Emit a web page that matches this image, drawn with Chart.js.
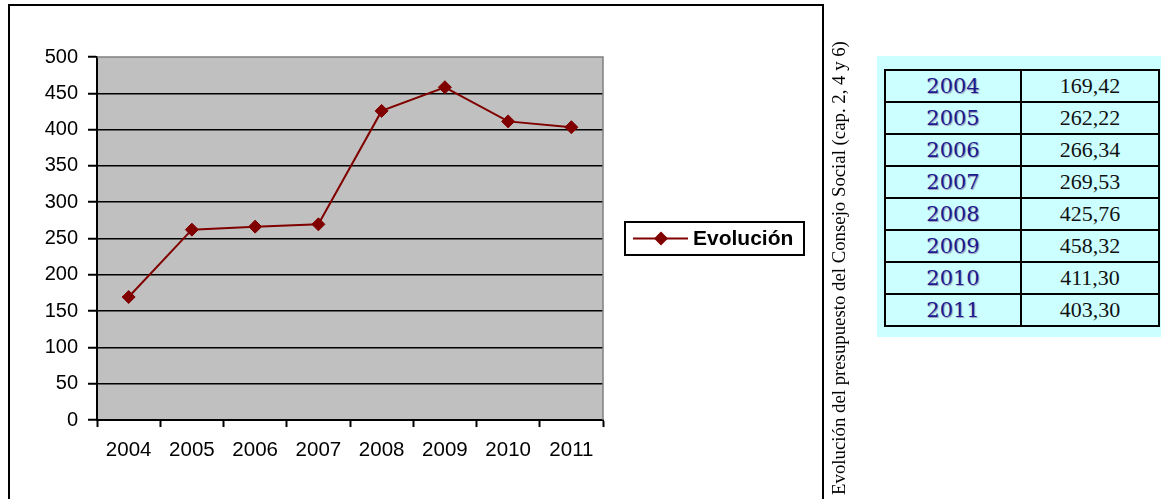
<!DOCTYPE html>
<html>
<head>
<meta charset="utf-8">
<script src="https://cdn.jsdelivr.net/npm/chart.js@4.4.1/dist/chart.umd.min.js"></script>
<style>
  html, body { margin: 0; padding: 0; background: #fff; }
  body { width: 1161px; height: 499px; position: relative; overflow: hidden; }
  #frame { position: absolute; left: 8px; top: 4px; width: 816px; height: 520px;
           border: 2px solid #000; box-sizing: border-box; }
  #wrap { position: absolute; left: 0; top: 0; width: 830px; height: 499px; }
  #side { position: absolute; left: 839px; top: 268px; width: 480px;
          transform: translate(-50%, -50%) rotate(-90deg);
          font-family: "Liberation Serif", "Times New Roman", serif; font-size: 18.8px;
          white-space: nowrap; text-align: center; color: #000; }
  #cyan { position: absolute; left: 877px; top: 56px; width: 284px; height: 281px; background: #ccffff; }
  #tbl { position: absolute; left: 884px; top: 69px; border-collapse: collapse; }
  #tbl td { border: 2px solid #000; height: 30px; padding: 0; text-align: center; vertical-align: middle; }
  #tbl td.y { width: 134px; font-family: "DejaVu Serif", serif; font-size: 21px; color: #1a1a8c;
              text-shadow: 1px 1px 1px #9a98b8; }
  #tbl td.v { width: 136px; font-family: "Liberation Serif", serif; font-size: 22px; color: #111; }
</style>
</head>
<body>
<div id="frame"></div>
<div id="wrap"><canvas id="c" width="830" height="499"></canvas></div>
<div id="side">Evolución del presupuesto del Consejo Social (cap. 2, 4 y 6)</div>
<div id="cyan"></div>
<table id="tbl"></table>
<script>
const years = ["2004", "2005", "2006", "2007", "2008", "2009", "2010", "2011"];
const values = [169.42, 262.22, 266.34, 269.53, 425.76, 458.32, 411.30, 403.30];
const valueLabels = ["169,42", "262,22", "266,34", "269,53", "425,76", "458,32", "411,30", "403,30"];
const seriesName = "Evolución";

// table
const tbl = document.getElementById('tbl');
years.forEach((y, i) => {
  const tr = document.createElement('tr');
  const a = document.createElement('td'); a.className = 'y'; a.textContent = y;
  const b = document.createElement('td'); b.className = 'v'; b.textContent = valueLabels[i];
  tr.appendChild(a); tr.appendChild(b); tbl.appendChild(tr);
});

const lineColor = '#800000';

const plotBg = {
  id: 'plotBg',
  beforeDraw(chart) {
    const {ctx, chartArea: a} = chart;
    ctx.save();
    ctx.fillStyle = '#c0c0c0';
    ctx.fillRect(a.left, a.top, a.right - a.left, a.bottom - a.top);
    ctx.restore();
  },
  afterDraw(chart) {
    const {ctx, chartArea: a} = chart;
    ctx.save();
    ctx.strokeStyle = '#808080';
    ctx.lineWidth = 1.5;
    ctx.beginPath();
    ctx.moveTo(a.left, a.top); ctx.lineTo(a.right, a.top); ctx.lineTo(a.right, a.bottom);
    ctx.stroke();
    // legend
    const lx = 625, ly = 222, lw = 179, lh = 33;
    ctx.fillStyle = '#fff';
    ctx.fillRect(lx, ly, lw, lh);
    ctx.strokeStyle = '#000'; ctx.lineWidth = 2;
    ctx.strokeRect(lx, ly, lw, lh);
    const cy = ly + lh / 2;
    ctx.strokeStyle = lineColor; ctx.lineWidth = 2;
    ctx.beginPath(); ctx.moveTo(633, cy); ctx.lineTo(688, cy); ctx.stroke();
    ctx.fillStyle = lineColor;
    ctx.beginPath();
    const r = 7;
    ctx.moveTo(661, cy - r); ctx.lineTo(661 + r, cy); ctx.lineTo(661, cy + r); ctx.lineTo(661 - r, cy); ctx.closePath();
    ctx.fill();
    ctx.fillStyle = '#000';
    ctx.font = 'bold 21px "Liberation Sans", Arial, sans-serif';
    ctx.textBaseline = 'middle';
    ctx.fillText(seriesName, 693, cy + 1);
    ctx.restore();
  }
};

new Chart(document.getElementById('c'), {
  type: 'line',
  data: {
    labels: years,
    datasets: [{
      label: seriesName,
      data: values,
      borderColor: lineColor,
      backgroundColor: lineColor,
      borderWidth: 2,
      pointStyle: 'rectRot',
      pointRadius: 6.5,
      pointHoverRadius: 6.5,
      pointBorderWidth: 1,
      tension: 0
    }]
  },
  options: {
    responsive: false,
    animation: false,
    events: [],
    layout: { padding: { left: 0, top: 57, right: 227, bottom: 0 } },
    plugins: { legend: { display: false }, tooltip: { enabled: false } },
    scales: {
      x: {
        type: 'category',
        offset: true,
        grid: { offset: true, drawOnChartArea: false, drawTicks: true, tickLength: 7, tickColor: '#000', tickWidth: 2 },
        border: { color: '#000', width: 2 },
        ticks: { color: '#000', padding: 11, font: { family: '"Liberation Sans", Arial, sans-serif', size: 20.5 }, maxRotation: 0, autoSkip: false },
        afterFit(s) { s.height = 79; }
      },
      y: {
        min: 0, max: 500,
        ticks: { stepSize: 50, color: '#000', padding: 10, font: { family: '"Liberation Sans", Arial, sans-serif', size: 20 } },
        grid: { color: (c) => c.tick && c.tick.value === 500 ? 'rgba(0,0,0,0)' : '#000', lineWidth: 1.5, tickLength: 9, tickColor: '#000', tickWidth: 2 },
        border: { color: '#000', width: 2 },
        afterFit(s) { s.width = 97; }
      }
    }
  },
  plugins: [plotBg]
});
</script>
</body>
</html>
